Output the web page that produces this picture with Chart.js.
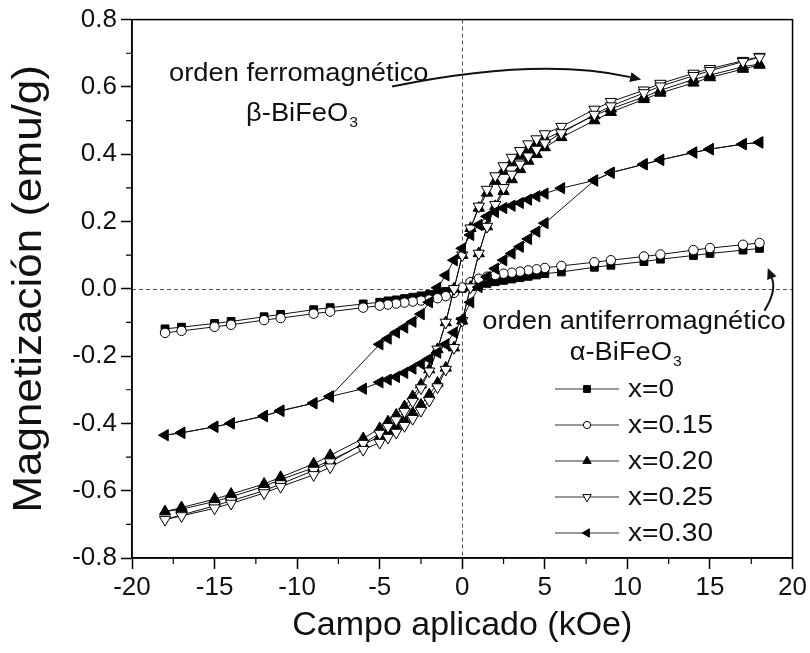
<!DOCTYPE html>
<html>
<head>
<meta charset="utf-8">
<script src="https://cdn.jsdelivr.net/npm/chart.js@4.4.0/dist/chart.umd.min.js"></script>
<style>
  html, body { margin: 0; padding: 0; background: #fff; }
  #wrap { width: 810px; height: 653px; }
</style>
</head>
<body>
<div id="wrap"><canvas id="chart"></canvas></div>
<script>
// ---- datos ----
const FAMILY = '"Liberation Sans", Arial, sans-serif';

// campo aplicado (kOe), rama descendente (+18 -> -18) y ascendente (-17 -> +18)
const fieldDown = [18,17,15,14,12,11,9,8,6,5,4.5,4,3.5,3,2.5,2,1.5,1,0.5,0,-0.5,-1,-1.5,-2,-2.5,-3,-3.5,-4,-4.5,-5,-6,-8,-9,-11,-12,-14,-15,-17,-18];
const fieldUp = [-17,-15,-14,-12,-11,-9,-8,-6,-5,-4.5,-4,-3.5,-3,-2.5,-2,-1.5,-1,-0.5,0,0.5,1,1.5,2,2.5,3,3.5,4,4.5,5,6,8,9,11,12,14,15,17,18];
// x=0.30 no tiene el punto de -6 (bajando) ni el de +6 (subiendo)
const fieldDown30 = [18,17,15,14,12,11,9,8,6,5,4.5,4,3.5,3,2.5,2,1.5,1,0.5,0,-0.5,-1,-1.5,-2,-2.5,-3,-3.5,-4,-4.5,-5,-8,-9,-11,-12,-14,-15,-17,-18];
const fieldUp30 = [-17,-15,-14,-12,-11,-9,-8,-6,-5,-4.5,-4,-3.5,-3,-2.5,-2,-1.5,-1,-0.5,0,0.5,1,1.5,2,2.5,3,3.5,4,4.5,5,8,9,11,12,14,15,17,18];

// magnetización (emu/g)
const m0 = [0.12,0.115,0.105,0.099,0.088,0.081,0.07,0.064,0.05,0.045,0.041,0.037,0.033,0.029,0.025,0.021,0.016,0.011,0.006,0.001,-0.004,-0.008,-0.012,-0.017,-0.021,-0.025,-0.029,-0.033,-0.036,-0.04,-0.045,-0.056,-0.062,-0.076,-0.083,-0.097,-0.103,-0.114,-0.119];
const m15 = [0.136,0.131,0.121,0.115,0.102,0.096,0.085,0.079,0.068,0.062,0.058,0.055,0.051,0.048,0.045,0.041,0.036,0.03,0.02,0.004,-0.012,-0.022,-0.028,-0.032,-0.035,-0.038,-0.041,-0.044,-0.047,-0.05,-0.056,-0.068,-0.074,-0.087,-0.093,-0.107,-0.113,-0.125,-0.131];
const m20Down = [0.668,0.66,0.635,0.622,0.59,0.57,0.535,0.515,0.467,0.445,0.43,0.415,0.395,0.375,0.35,0.32,0.285,0.24,0.18,0.10,0.0,-0.10,-0.18,-0.24,-0.285,-0.32,-0.35,-0.375,-0.395,-0.415,-0.445,-0.495,-0.52,-0.56,-0.58,-0.61,-0.625,-0.65,-0.662];
const m20Up = [-0.655,-0.632,-0.618,-0.587,-0.567,-0.532,-0.51,-0.462,-0.44,-0.425,-0.41,-0.39,-0.37,-0.345,-0.315,-0.28,-0.235,-0.175,-0.095,0.005,0.105,0.185,0.245,0.29,0.325,0.355,0.38,0.40,0.42,0.45,0.50,0.525,0.563,0.582,0.612,0.628,0.653,0.665];
const m25Down = [0.69,0.678,0.654,0.64,0.61,0.59,0.556,0.533,0.482,0.46,0.445,0.43,0.41,0.39,0.365,0.335,0.295,0.245,0.18,0.10,0.0,-0.10,-0.18,-0.245,-0.295,-0.335,-0.365,-0.39,-0.41,-0.43,-0.46,-0.515,-0.54,-0.58,-0.60,-0.63,-0.645,-0.672,-0.686];
const m25Up = [-0.675,-0.652,-0.638,-0.607,-0.588,-0.553,-0.53,-0.478,-0.457,-0.442,-0.427,-0.407,-0.386,-0.362,-0.332,-0.292,-0.24,-0.175,-0.095,0.005,0.105,0.185,0.25,0.3,0.34,0.37,0.394,0.414,0.433,0.463,0.518,0.543,0.582,0.602,0.633,0.648,0.675,0.688];
const m30Down = [0.435,0.43,0.415,0.405,0.383,0.37,0.345,0.322,0.299,0.283,0.275,0.265,0.255,0.247,0.24,0.228,0.215,0.19,0.16,0.12,0.085,0.04,0.003,-0.04,-0.075,-0.098,-0.115,-0.13,-0.148,-0.165,-0.32,-0.34,-0.362,-0.378,-0.40,-0.41,-0.428,-0.435];
const m30Up = [-0.428,-0.41,-0.40,-0.378,-0.363,-0.34,-0.32,-0.297,-0.278,-0.27,-0.262,-0.25,-0.237,-0.223,-0.208,-0.19,-0.165,-0.13,-0.09,-0.04,0.005,0.035,0.06,0.085,0.105,0.125,0.148,0.17,0.195,0.322,0.345,0.37,0.383,0.405,0.415,0.43,0.435];

const seriesLabels = ['x=0', 'x=0.15', 'x=0.20', 'x=0.25', 'x=0.30'];

const xTicks = [-20, -15, -10, -5, 0, 5, 10, 15, 20];
const yTicks = [-0.8, -0.6, -0.4, -0.2, 0.0, 0.2, 0.4, 0.6, 0.8];
const yTitle = 'Magnetización (emu/g)';

// textos y flechas (coordenadas de datos)
const notes = [
  { text: 'orden ferromagnético', x: -9.9, y: 0.64 },
  { text: 'β-BiFeO', sub: '3', x: -9.7, y: 0.52 },
  { text: 'orden antiferromagnético', x: 10.4, y: -0.098 },
  { text: 'α-BiFeO', sub: '3', x: 9.9, y: -0.19 }
];
const arrows = [
  { from: [-4.25, 0.601], ctrl: [4.6, 0.69], to: [10.83, 0.622] },
  { from: [18.3, -0.065], ctrl: [19.05, -0.006], to: [18.5, 0.062] }
];

const pts = (xs, ys) => xs.map((x, i) => ({ x: x, y: ys[i] }));

function series(label, data, style, rot, radius, fill, order) {
  return {
    label: label,
    data: data,
    showLine: true,
    borderColor: '#111',
    borderWidth: 1,
    pointStyle: style,
    pointRotation: rot,
    pointRadius: radius,
    pointHoverRadius: radius,
    pointBackgroundColor: fill,
    pointBorderColor: '#000',
    pointBorderWidth: 1,
    order: order
  };
}

const datasets = [
  series(seriesLabels[0], pts(fieldDown, m0), 'rect', 0, 5.5, '#000', 5),
  series(seriesLabels[1], pts(fieldDown, m15), 'circle', 0, 4.7, '#fff', 4),
  series(seriesLabels[2], pts(fieldDown, m20Down).concat(pts(fieldUp, m20Up)), 'triangle', 0, 6.5, '#000', 3),
  series(seriesLabels[3], pts(fieldDown, m25Down).concat(pts(fieldUp, m25Up)), 'triangle', 180, 6.5, '#fff', 2),
  series(seriesLabels[4], pts(fieldDown30, m30Down).concat(pts(fieldUp30, m30Up)), 'triangle', 270, 6.5, '#000', 1)
];

function marker(ctx, style, rot, r, x, y, fill) {
  ctx.save();
  ctx.beginPath();
  if (style === 'rect') {
    const s = r * Math.SQRT1_2;
    ctx.rect(x - s, y - s, 2 * s, 2 * s);
  } else if (style === 'circle') {
    ctx.arc(x, y, r, 0, Math.PI * 2);
  } else {
    let a = rot * Math.PI / 180;
    for (let k = 0; k < 3; k++) {
      const px = x + Math.sin(a) * r, py = y - Math.cos(a) * r;
      k === 0 ? ctx.moveTo(px, py) : ctx.lineTo(px, py);
      a += Math.PI * 2 / 3;
    }
    ctx.closePath();
  }
  ctx.fillStyle = fill;
  ctx.fill();
  ctx.lineWidth = 1;
  ctx.strokeStyle = '#000';
  ctx.stroke();
  ctx.restore();
}

// texto algo ensanchado, como en la figura original
function wideText(ctx, text, sub, cx, cy, size, stretch) {
  ctx.save();
  ctx.font = size + 'px ' + FAMILY;
  const w = ctx.measureText(text).width;
  let sw = 0;
  const subSize = Math.round(size * 0.58);
  if (sub) { ctx.font = subSize + 'px ' + FAMILY; sw = ctx.measureText(sub).width + 1; }
  ctx.translate(cx - (w + sw) * stretch / 2, cy);
  ctx.scale(stretch, 1);
  ctx.textAlign = 'left';
  ctx.textBaseline = 'middle';
  ctx.font = size + 'px ' + FAMILY;
  ctx.fillText(text, 0, 0);
  if (sub) {
    ctx.font = subSize + 'px ' + FAMILY;
    ctx.fillText(sub, w + 1, size * 0.36);
  }
  ctx.restore();
}

const framePlugin = {
  id: 'frame',
  beforeDatasetsDraw(chart) {
    const { ctx, chartArea: a, scales: { x, y } } = chart;
    ctx.save();
    ctx.strokeStyle = '#555';
    ctx.lineWidth = 1;
    ctx.setLineDash([4, 3]);
    const x0 = Math.round(x.getPixelForValue(0)) + 0.5;
    const y0 = Math.round(y.getPixelForValue(0)) + 0.5;
    ctx.beginPath();
    ctx.moveTo(x0, a.top); ctx.lineTo(x0, a.bottom);
    ctx.moveTo(a.left, y0); ctx.lineTo(a.right, y0);
    ctx.stroke();
    ctx.restore();
  },
  afterDraw(chart) {
    const { ctx, chartArea: a, scales: { x, y } } = chart;
    ctx.save();
    // marco
    ctx.strokeStyle = '#000';
    ctx.lineWidth = 1.5;
    ctx.strokeRect(a.left, a.top, a.right - a.left, a.bottom - a.top);
    // marcas menores
    ctx.lineWidth = 1.2;
    ctx.beginPath();
    for (let i = 0; i < yTicks.length - 1; i++) {
      const py = y.getPixelForValue((yTicks[i] + yTicks[i + 1]) / 2);
      ctx.moveTo(a.left - 6, py); ctx.lineTo(a.left, py);
    }
    for (let i = 0; i < xTicks.length - 1; i++) {
      const px = x.getPixelForValue((xTicks[i] + xTicks[i + 1]) / 2);
      ctx.moveTo(px, a.bottom); ctx.lineTo(px, a.bottom + 6);
    }
    ctx.stroke();

    // título del eje y
    ctx.save();
    ctx.translate(30, (a.top + a.bottom) / 2);
    ctx.rotate(-Math.PI / 2);
    ctx.scale(1.1, 1);
    ctx.fillStyle = '#111';
    ctx.font = '40px ' + FAMILY;
    ctx.textAlign = 'center';
    ctx.textBaseline = 'middle';
    ctx.fillText(yTitle, 0, 0);
    ctx.restore();

    // anotaciones
    ctx.fillStyle = '#111';
    notes.forEach(n => {
      wideText(ctx, n.text, n.sub, x.getPixelForValue(n.x), y.getPixelForValue(n.y), 26, 1.05);
    });
    ctx.strokeStyle = '#111';
    ctx.lineWidth = 2;
    arrows.forEach(ar => {
      const p0 = [x.getPixelForValue(ar.from[0]), y.getPixelForValue(ar.from[1])];
      const c = [x.getPixelForValue(ar.ctrl[0]), y.getPixelForValue(ar.ctrl[1])];
      const p1 = [x.getPixelForValue(ar.to[0]), y.getPixelForValue(ar.to[1])];
      const ang = Math.atan2(p1[1] - c[1], p1[0] - c[0]);
      const back = 11;
      const bx = p1[0] - Math.cos(ang) * back, by = p1[1] - Math.sin(ang) * back;
      ctx.beginPath();
      ctx.moveTo(p0[0], p0[1]);
      ctx.quadraticCurveTo(c[0], c[1], bx, by);
      ctx.stroke();
      ctx.beginPath();
      ctx.moveTo(p1[0], p1[1]);
      ctx.lineTo(bx + Math.sin(ang) * 5, by - Math.cos(ang) * 5);
      ctx.lineTo(bx - Math.sin(ang) * 5, by + Math.cos(ang) * 5);
      ctx.closePath();
      ctx.fill();
    });

    // leyenda
    const rows = [389, 425, 461, 497, 533];
    chart.data.datasets.forEach((ds, i) => {
      const ly = rows[i];
      ctx.strokeStyle = '#333';
      ctx.lineWidth = 1;
      ctx.beginPath();
      ctx.moveTo(555, ly); ctx.lineTo(619, ly);
      ctx.stroke();
      marker(ctx, ds.pointStyle, ds.pointRotation, ds.pointStyle === 'circle' ? 3.6 : 4.8, 587, ly, ds.pointBackgroundColor);
      ctx.fillStyle = '#111';
      ctx.save();
      ctx.translate(628, ly + 1);
      ctx.scale(1.08, 1);
      ctx.font = '26px ' + FAMILY;
      ctx.textAlign = 'left';
      ctx.textBaseline = 'middle';
      ctx.fillText(ds.label, 0, 0);
      ctx.restore();
    });
    ctx.restore();
  }
};

new Chart(document.getElementById('chart'), {
  type: 'scatter',
  data: { datasets: datasets },
  options: {
    responsive: true,
    maintainAspectRatio: false,
    animation: false,
    events: [],
    layout: { padding: { top: 18, right: 15, left: 0, bottom: 0 } },
    plugins: { legend: { display: false }, tooltip: { enabled: false } },
    scales: {
      x: {
        type: 'linear', min: -20, max: 20,
        afterFit: s => { s.height = 95; },
        afterBuildTicks: s => { s.ticks = xTicks.map(v => ({ value: v })); },
        ticks: { color: '#111', padding: 3, font: { family: FAMILY, size: 26 }, callback: v => String(v) },
        grid: { drawOnChartArea: false, drawTicks: true, tickLength: 11, tickColor: '#000', tickWidth: 1.5 },
        border: { display: true, color: '#000', width: 1.5 },
        title: { display: true, text: 'Campo aplicado (kOe)', color: '#111', font: { family: FAMILY, size: 34 }, padding: { top: 0, bottom: 7 } }
      },
      y: {
        type: 'linear', min: -0.8, max: 0.8,
        afterFit: s => { s.width = 132; },
        afterBuildTicks: s => { s.ticks = yTicks.map(v => ({ value: v })); },
        ticks: { color: '#111', padding: 4, font: { family: FAMILY, size: 26 }, callback: v => v.toFixed(1) },
        grid: { drawOnChartArea: false, drawTicks: true, tickLength: 11, tickColor: '#000', tickWidth: 1.5 },
        border: { display: true, color: '#000', width: 1.5 },
        title: { display: false }
      }
    }
  },
  plugins: [framePlugin]
});
</script>
</body>
</html>
